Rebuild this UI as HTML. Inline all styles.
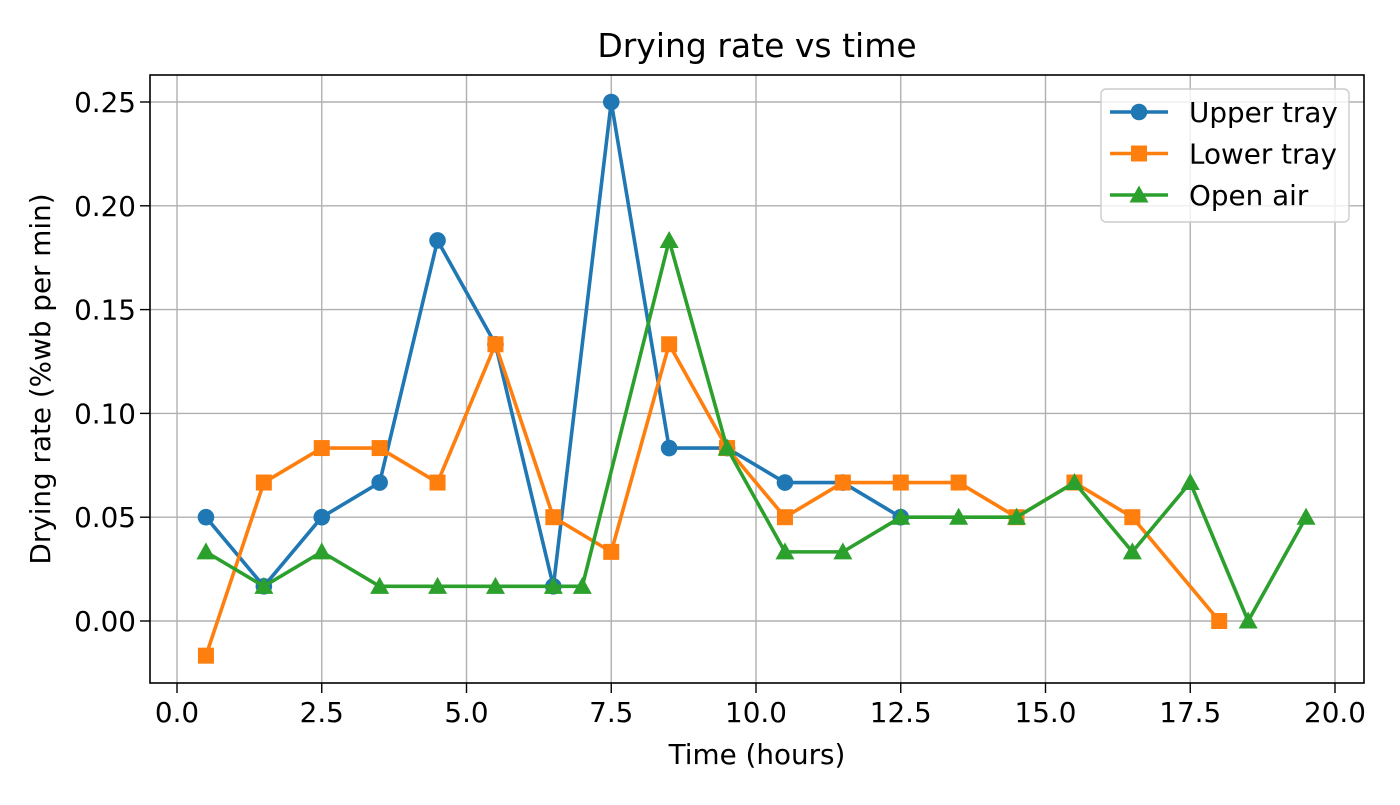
<!DOCTYPE html>
<html><head><meta charset="utf-8"><style>
body{margin:0;background:#fff;}
svg text{font-family:"DejaVu Sans","Liberation Sans",sans-serif;fill:#000;}
</style></head><body>
<svg id="chart" width="1400" height="800" xmlns="http://www.w3.org/2000/svg">
<rect width="1400" height="800" fill="#fff"/>
<g id="grid"></g>
<g id="series"></g>
<rect x="150" y="75" width="1214" height="608" fill="none" stroke="#000" stroke-width="1.6"/>
<g id="ticks"></g>
<text x="757" y="57" font-size="33" text-anchor="middle">Drying rate vs time</text>
<text x="757" y="764" font-size="27.8" text-anchor="middle">Time (hours)</text>
<text transform="translate(50,379) rotate(-90)" font-size="27.8" text-anchor="middle">Drying rate (%wb per min)</text>
<g id="legend"></g>
</svg>
<script>
const xTicks=[0,2.5,5,7.5,10,12.5,15,17.5,20];
const xTickLabels=["0.0","2.5","5.0","7.5","10.0","12.5","15.0","17.5","20.0"];
const yTicks=[0,0.05,0.10,0.15,0.20,0.25];
const yTickLabels=["0.00","0.05","0.10","0.15","0.20","0.25"];
const upperX=[0.5,1.5,2.5,3.5,4.5,5.5,6.5,7.5,8.5,9.5,10.5,11.5,12.5];
const upperY=[0.05,0.0167,0.05,0.0667,0.1833,0.1333,0.0167,0.25,0.0833,0.0833,0.0667,0.0667,0.05];
const lowerX=[0.5,1.5,2.5,3.5,4.5,5.5,6.5,7.5,8.5,9.5,10.5,11.5,12.5,13.5,14.5,15.5,16.5,18.0];
const lowerY=[-0.0167,0.0667,0.0833,0.0833,0.0667,0.1333,0.05,0.0333,0.1333,0.0833,0.05,0.0667,0.0667,0.0667,0.05,0.0667,0.05,0];
const openX=[0.5,1.5,2.5,3.5,4.5,5.5,6.5,7.0,8.5,9.5,10.5,11.5,12.5,13.5,14.5,15.5,16.5,17.5,18.5,19.5];
const openY=[0.0333,0.0167,0.0333,0.0167,0.0167,0.0167,0.0167,0.0167,0.1833,0.0833,0.0333,0.0333,0.05,0.05,0.05,0.0667,0.0333,0.0667,0,0.05];
const seriesNames=["Upper tray","Lower tray","Open air"];

const NS="http://www.w3.org/2000/svg";
const xs=v=>177+v*57.9;
const ys=v=>621-v*2076;
function mk(tag,attrs,parent){const e=document.createElementNS(NS,tag);for(const k in attrs)e.setAttribute(k,attrs[k]);parent.appendChild(e);return e;}
const grid=document.getElementById('grid'),ticks=document.getElementById('ticks'),ser=document.getElementById('series'),leg=document.getElementById('legend');
xTicks.forEach((t,i)=>{
 const x=xs(t);
 const g=mk('line',{x1:x,x2:x,y1:75,y2:683,stroke:'#b0b0b0','stroke-width':1.4},grid);
 
 
 const tk=mk('line',{x1:x,x2:x,y1:683,y2:693,stroke:'#000','stroke-width':1.4},ticks);
 
 
 const tl=mk('text',{x:x,y:722,'font-size':27.8,'text-anchor':'middle'},ticks);tl.textContent=xTickLabels[i];
 
 
});
yTicks.forEach((t,i)=>{
 const y=ys(t);
 const g=mk('line',{x1:150,x2:1364,y1:y,y2:y,stroke:'#b0b0b0','stroke-width':1.4},grid);
 
 
 const tk=mk('line',{x1:140,x2:150,y1:y,y2:y,stroke:'#000','stroke-width':1.4},ticks);
 
 
 const tl=mk('text',{x:136,y:y+10,'font-size':27.8,'text-anchor':'end'},ticks);tl.textContent=yTickLabels[i];
 
 
});
function marker(type,x,y,color,parent){
 let e;
 if(type==='o')e=mk('circle',{cx:x,cy:y,r:8.3,fill:color},parent);
 else if(type==='s')e=mk('rect',{x:x-8,y:y-8,width:16,height:16,fill:color},parent);
 else e=mk('polygon',{points:`${x},${y-9.5} ${x+9.5},${y+7.5} ${x-9.5},${y+7.5}`,fill:color},parent);
 return e;
}
const defs=[[upperX,upperY,'#1f77b4','o','upper-tray'],[lowerX,lowerY,'#ff7f0e','s','lower-tray'],[openX,openY,'#2ca02c','^','open-air']];
defs.forEach(([X,Y,c,m,n])=>{
 const g=mk('g',{},ser);
 
 
 const l=mk('polyline',{points:X.map((x,i)=>xs(x)+','+ys(Y[i])).join(' '),fill:'none',stroke:c,'stroke-width':3.6,'stroke-linejoin':'round'},g);
 
 
 X.forEach((x,i)=>{const p=marker(m,xs(x),ys(Y[i]),c,g);
  
  });
});
const box=mk('rect',{x:1101,y:89,width:248,height:133,rx:5,fill:'#fff','fill-opacity':0.8,stroke:'#ccc','stroke-width':1.4},leg);


defs.forEach(([X,Y,c,m,n],i)=>{
 const y=112+i*41.5;
 const g=mk('g',{},leg);
 
 
 mk('line',{x1:1110,x2:1168,y1:y,y2:y,stroke:c,'stroke-width':3.6},g);
 marker(m,1139,y,c,g);
 const t=mk('text',{x:1189,y:y+10,'font-size':27.8},g);t.textContent=seriesNames[i];
});
</script>
</body></html>
